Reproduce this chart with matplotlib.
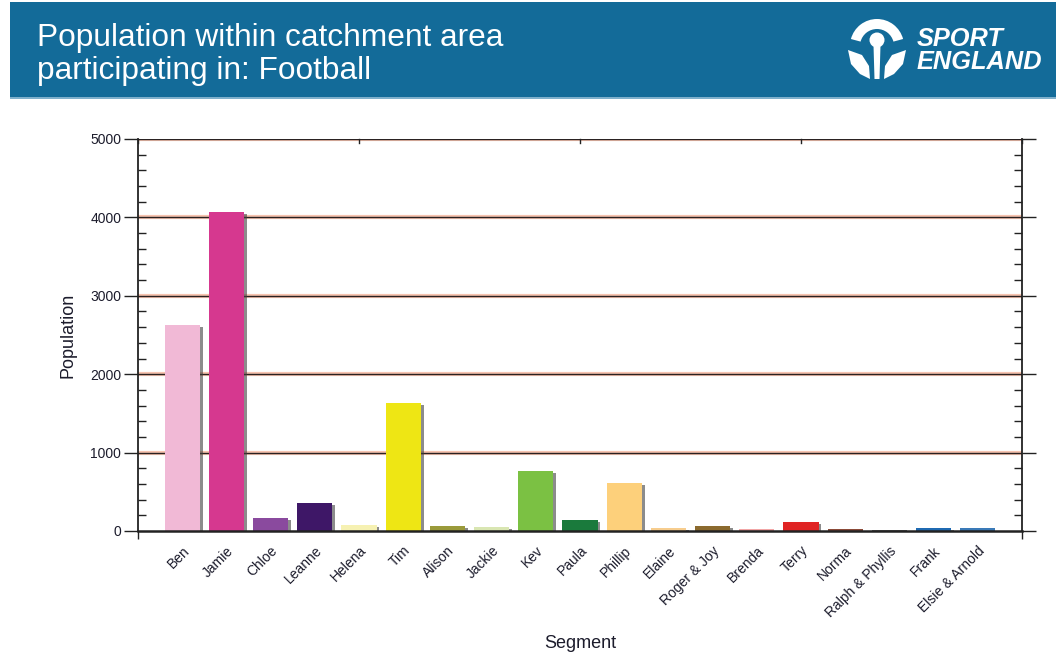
import matplotlib
matplotlib.use("Agg")
import matplotlib.pyplot as plt
import matplotlib.patheffects as pe
from matplotlib.patches import Rectangle, Circle, Wedge, Polygon
from matplotlib.ticker import MultipleLocator, FixedLocator

plt.rcParams['font.family'] = ['Liberation Sans', 'DejaVu Sans']

segments = ["Ben", "Jamie", "Chloe", "Leanne", "Helena", "Tim", "Alison", "Jackie",
            "Kev", "Paula", "Phillip", "Elaine", "Roger & Joy", "Brenda", "Terry",
            "Norma", "Ralph & Phyllis", "Frank", "Elsie & Arnold"]
population = [2630, 4070, 168, 352, 76, 1635, 60, 55, 765, 140, 616, 34, 64, 30,
              119, 30, 10, 38, 32]
colors = ["#f1b9d6", "#d6388f", "#8a4a9e", "#3e1767", "#f6f1b2", "#eee614",
          "#9a9a3a", "#d9e6b2", "#7bc143", "#1a7a3c", "#fdd07b", "#f7cd8e",
          "#8b6a2e", "#f2a6a6", "#e02424", "#8b4a38", "#6a6a6a", "#1f6ab2",
          "#3a7ab8"]
title_lines = ["Population within catchment area", "participating in: Football"]
y_ticks = [0, 1000, 2000, 3000, 4000, 5000]

W, H = 1056, 657
fig = plt.figure(figsize=(W / 100, H / 100), dpi=100)
fig.patch.set_facecolor("white")

# --- header band (figure-pixel overlay) ---
hdr = fig.add_axes([0, 0, 1, 1], zorder=0)
hdr.set_xlim(0, W)
hdr.set_ylim(H, 0)
hdr.axis("off")
hdr.add_patch(Rectangle((10, 2), W - 10, 97, facecolor="#136b99", edgecolor="none"))
hdr.add_patch(Rectangle((10, 97), W - 10, 2, facecolor="#7fb0cc", edgecolor="none"))
hdr.text(37, 38, title_lines[0], color="white", fontsize=22.8, va="center", ha="left")
hdr.text(37, 71, title_lines[1], color="white", fontsize=22.8, va="center", ha="left")

# logo symbol
hdr.add_patch(Wedge((877, 46), 27, 195, 345, width=10, facecolor="white", edgecolor="none"))
hdr.add_patch(Circle((877, 40), 7.5, facecolor="white", edgecolor="none"))
hdr.add_patch(Polygon([(873.5, 45), (880.5, 45), (879.5, 79), (874.5, 79)], closed=True,
                      facecolor="white", edgecolor="none"))
hdr.add_patch(Polygon([(848, 50), (862, 55), (869, 66), (870, 79), (860, 74), (851, 64)],
                      closed=True, facecolor="white", edgecolor="none"))
hdr.add_patch(Polygon([(906, 50), (892, 55), (885, 66), (884, 79), (894, 74), (903, 64)],
                      closed=True, facecolor="white", edgecolor="none"))
hdr.text(917, 39, "SPORT", color="white", fontsize=18.3, fontweight="bold",
         fontstyle="italic", va="center", ha="left")
hdr.text(917, 62, "ENGLAND", color="white", fontsize=18.3, fontweight="bold",
         fontstyle="italic", va="center", ha="left")

# --- main chart ---
ax = fig.add_axes([138 / W, 1 - 531 / H, (1022 - 138) / W, (531 - 139) / H], zorder=1)
ax.patch.set_alpha(0)
x = list(range(len(segments)))
bars = ax.bar(x, population, width=0.8, color=colors, zorder=3)
for b in bars:
    b.set_path_effects([pe.SimplePatchShadow(offset=(2, -1.5), shadow_rgbFace="#404040", alpha=0.6),
                        pe.Normal()])

ax.set_xlim(-1, len(segments))
ax.set_ylim(0, 5000)

for v in y_ticks[1:]:
    ax.axhline(v, color="#f7c4b0", lw=3, zorder=1)
    ax.axhline(v, color="#2a2222", lw=1, zorder=2)

for s in ["left", "right", "bottom"]:
    ax.spines[s].set_color("#222222")
    ax.spines[s].set_linewidth(1.3)
ax.spines["top"].set_visible(False)
ax.spines["bottom"].set_linewidth(1.8)
ax.spines["bottom"].set_zorder(4)

ax.yaxis.set_major_locator(FixedLocator(y_ticks))
ax.yaxis.set_minor_locator(MultipleLocator(200))
ax.tick_params(axis="y", which="major", direction="out", length=10, width=1,
               labelsize=10, labelcolor="#1c1c2c", color="#222222",
               left=True, right=True, pad=2)
ax.tick_params(axis="y", which="minor", direction="in", length=6, width=1,
               color="#222222", left=True, right=True)

ax.set_xticks(x)
ax.set_xticklabels(segments, rotation=45, ha="right", rotation_mode="anchor",
                   fontsize=10, color="#1c1c2c")
ax.xaxis.set_minor_locator(FixedLocator([-1, 4, 9, 14, 19]))
ax.tick_params(axis="x", which="major", length=0, pad=9)
ax.tick_params(axis="x", which="minor", direction="out", length=6, width=1,
               color="#222222", bottom=True, top=False)

# top ticks
for t in [-1, 4, 9, 14, 19]:
    ax.plot([t, t], [5000, 4950], color="#222222", lw=1, clip_on=False, zorder=4)

ax.set_ylabel("Population", fontsize=13, color="#1c1c2c", labelpad=10)
ax.set_xlabel("Segment", fontsize=13, color="#1c1c2c")
ax.xaxis.set_label_coords(0.5, -0.265)

fig.savefig("out.png", dpi=100)
